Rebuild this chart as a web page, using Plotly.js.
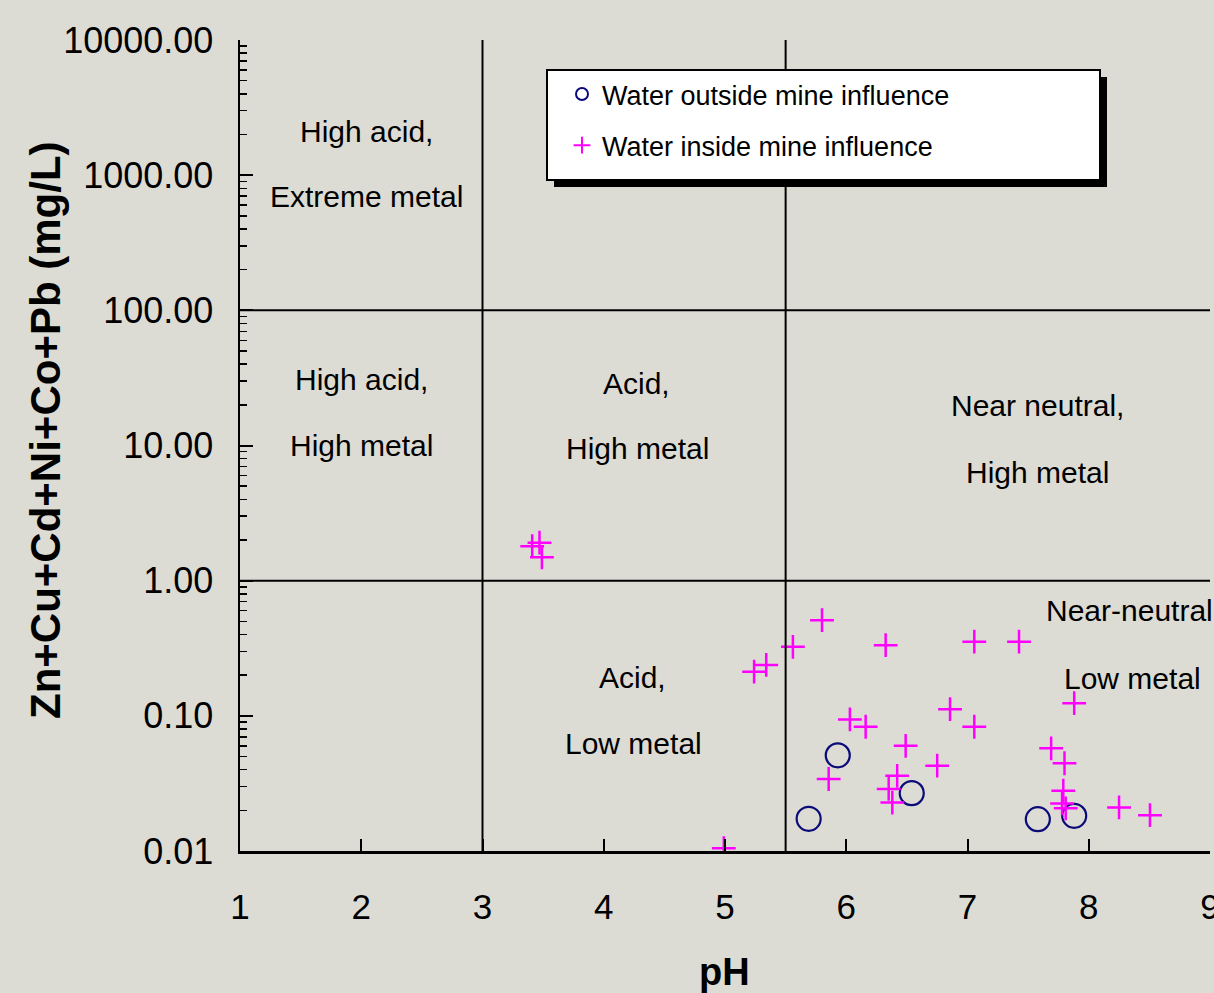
<!DOCTYPE html>
<html>
<head>
<meta charset="utf-8">
<script src="https://cdn.plot.ly/plotly-3.0.1.min.js"></script>
<style>
html,body{margin:0;padding:0;background:#dcdcd5;}
#chart{width:1214px;height:993px;}
</style>
</head>
<body>
<div id="chart"></div>
<script>
// ---- data ----
var outsidePH    = [5.69, 5.93, 6.54, 7.58, 7.88];
var outsideMetal = [0.0173, 0.051, 0.0268, 0.0172, 0.0182];

var insidePH    = [3.41, 3.47, 3.49, 4.99, 5.24, 5.34, 5.56, 5.80, 5.855, 6.03, 6.16, 6.325, 6.42, 6.35, 6.38,
                   6.49, 6.75, 6.856, 7.056, 7.056, 7.425, 7.69, 7.80, 7.79, 7.78, 7.81, 7.88, 8.25, 8.505];
var insideMetal = [1.80, 1.91, 1.49, 0.0105, 0.212, 0.238, 0.324, 0.51, 0.0341, 0.094, 0.083, 0.333, 0.036, 0.0288, 0.0228,
                   0.060, 0.0428, 0.112, 0.354, 0.083, 0.354, 0.0575, 0.0446, 0.0279, 0.0225, 0.0207, 0.124, 0.021, 0.0184];

var xTickVals = [1, 2, 3, 4, 5, 6, 7, 8, 9];
var yTickVals = [0.01, 0.1, 1, 10, 100, 1000, 10000];
var yTickText = ['0.01', '0.10', '1.00', '10.00', '100.00', '1000.00', '10000.00'];

// region boundaries
var phBounds    = [3, 5.5];
var metalBounds = [1, 100];

var seriesNames = ['Water outside mine influence', 'Water inside mine influence'];

var regionLabels = [
  {t: 'High acid,',     px: 366,  py: 131},
  {t: 'Extreme metal',  px: 366,  py: 197},
  {t: 'High acid,',     px: 361,  py: 379},
  {t: 'High metal',     px: 361,  py: 446},
  {t: 'Acid,',          px: 636,  py: 383},
  {t: 'High metal',     px: 637,  py: 449},
  {t: 'Near neutral,',  px: 1037, py: 405},
  {t: 'High metal',     px: 1037, py: 472},
  {t: 'Near-neutral',   px: 1129, py: 610},
  {t: 'Low metal',      px: 1132, py: 678},
  {t: 'Acid,',          px: 632,  py: 677},
  {t: 'Low metal',      px: 633,  py: 743}
];

// ---- layout helpers (plot area: x 240..1210, y 40..851) ----
var L = 240, R = 1210, T = 40, B = 851;
function px2paper(px) { return (px - L) / (R - L); }
function py2paper(py) { return (B - py) / (B - T); }

var FONT = 'Liberation Sans, Arial, Helvetica, sans-serif';

var traces = [
  {
    x: outsidePH, y: outsideMetal, type: 'scatter', mode: 'markers',
    name: seriesNames[0], legendgroup: 'a',
    marker: {symbol: 'circle-open', size: 24, color: '#0a0a78', line: {width: 2.2, color: '#0a0a78'}}
  },
  {
    x: insidePH, y: insideMetal, type: 'scatter', mode: 'markers',
    name: seriesNames[1], legendgroup: 'b',
    marker: {symbol: 'cross-thin-open', size: 17, color: '#ff00ff', line: {width: 2.5, color: '#ff00ff'}}
  }
];

var annotations = regionLabels.map(function (r) {
  return {
    text: r.t, xref: 'paper', yref: 'paper',
    x: px2paper(r.px), y: py2paper(r.py), xanchor: 'center', yanchor: 'middle',
    showarrow: false, font: {family: FONT, size: 30, color: '#000'}
  };
});
annotations.push({
  text: 'Zn+Cu+Cd+Ni+Co+Pb (mg/L)', xref: 'paper', yref: 'paper',
  x: px2paper(45), y: py2paper(430), xanchor: 'center', yanchor: 'middle', textangle: -90,
  showarrow: false, font: {family: FONT, size: 42, color: '#000', weight: 'bold'}
});
annotations.push({
  text: 'pH', xref: 'paper', yref: 'paper',
  x: px2paper(724), y: py2paper(972), xanchor: 'center', yanchor: 'middle',
  showarrow: false, font: {family: FONT, size: 38, color: '#000', weight: 'bold'}
});

var shapes = [
  {type: 'line', xref: 'x', yref: 'paper', x0: phBounds[0], x1: phBounds[0], y0: 0, y1: 1, line: {color: '#000', width: 2}},
  {type: 'line', xref: 'x', yref: 'paper', x0: phBounds[1], x1: phBounds[1], y0: 0, y1: 1, line: {color: '#000', width: 2}},
  {type: 'line', xref: 'paper', yref: 'y', x0: 0, x1: 1, y0: metalBounds[0], y1: metalBounds[0], line: {color: '#000', width: 2}},
  {type: 'line', xref: 'paper', yref: 'y', x0: 0, x1: 1, y0: metalBounds[1], y1: metalBounds[1], line: {color: '#000', width: 2}},
  // legend shadow and box
  {type: 'rect', xref: 'paper', yref: 'paper', layer: 'above',
   x0: px2paper(554), x1: px2paper(1107), y0: py2paper(187), y1: py2paper(77),
   fillcolor: '#000', line: {width: 0}},
  {type: 'rect', xref: 'paper', yref: 'paper', layer: 'above',
   x0: px2paper(547), x1: px2paper(1100), y0: py2paper(180), y1: py2paper(70),
   fillcolor: '#fff', line: {color: '#000', width: 2}}
];

var layout = {
  width: 1214, height: 993,
  margin: {l: L, r: 1214 - R, t: T, b: 993 - B, pad: 0},
  paper_bgcolor: '#dcdcd5', plot_bgcolor: 'rgba(0,0,0,0)',
  showlegend: true,
  legend: {
    x: px2paper(562), y: py2paper(70), xanchor: 'left', yanchor: 'top',
    bgcolor: 'rgba(0,0,0,0)', borderwidth: 0, itemsizing: 'constant',
    tracegroupgap: 13, font: {family: FONT, size: 27, color: '#000'}
  },
  xaxis: {
    range: [1, 9], tickmode: 'array', tickvals: xTickVals,
    ticks: 'inside', ticklen: 12, tickwidth: 2, tickcolor: '#000',
    showline: true, linewidth: 2.5, linecolor: '#000',
    showgrid: false, zeroline: false, ticklabelstandoff: 23, ticklabeloverflow: 'allow',
    tickfont: {family: FONT, size: 35, color: '#000'}, fixedrange: true
  },
  yaxis: {
    type: 'log', range: [-2, 4], tickmode: 'array', tickvals: yTickVals, ticktext: yTickText,
    ticks: 'inside', ticklen: 13, tickwidth: 2, tickcolor: '#000',
    minor: {ticks: 'inside', ticklen: 7, tickwidth: 1.5, tickcolor: '#000', dtick: 'D1', showgrid: false},
    showline: true, linewidth: 2.5, linecolor: '#000',
    showgrid: false, zeroline: false, ticklabelstandoff: 17,
    tickfont: {family: FONT, size: 36, color: '#000'}, fixedrange: true
  },
  annotations: annotations,
  shapes: shapes
};

Plotly.newPlot('chart', traces, layout, {displayModeBar: false, staticPlot: true});
</script>
</body>
</html>
